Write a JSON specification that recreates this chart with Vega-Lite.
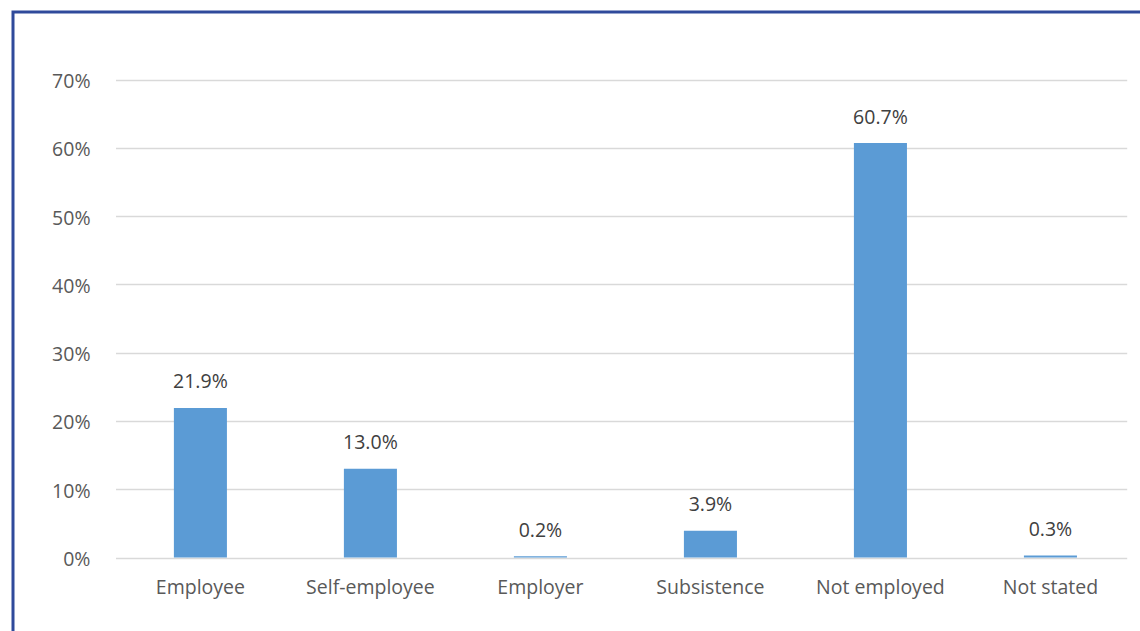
{
  "$schema": "https://vega.github.io/schema/vega-lite/v6.json",
  "width": 1137,
  "height": 634,
  "autosize": {"type": "none"},
  "padding": {"left": 13, "top": 12, "right": -10, "bottom": -15},
  "background": "white",
  "config": {
    "view": {"stroke": "#2F4A9B", "strokeWidth": 3},
    "font": "Open Sans"
  },
  "data": {
    "values": [
      {"category": "Employee", "share": 0.219},
      {"category": "Self-employee", "share": 0.130},
      {"category": "Employer", "share": 0.002},
      {"category": "Subsistence", "share": 0.039},
      {"category": "Not employed", "share": 0.607},
      {"category": "Not stated", "share": 0.003}
    ]
  },
  "encoding": {
    "x": {
      "field": "category",
      "type": "nominal",
      "sort": null,
      "scale": {"range": [102.5, 1113.7], "paddingInner": 0.688, "paddingOuter": 0.318, "align": 0.54},
      "axis": {
        "title": null,
        "orient": "bottom",
        "offset": -88.5,
        "domain": false,
        "ticks": false,
        "grid": false,
        "labelAngle": 0,
        "labelPadding": 21,
        "labelFontSize": 19.5,
        "labelColor": "#595959",
        "labelFont": "Open Sans"
      }
    },
    "y": {
      "field": "share",
      "type": "quantitative",
      "scale": {"domain": [0, 0.7], "range": [545.5, 67.5], "nice": false},
      "axis": {
        "title": null,
        "offset": -102.5,
        "domain": false,
        "ticks": false,
        "grid": true,
        "gridColor": "#D9D9D9",
        "gridWidth": 1.5,
        "values": [0, 0.1, 0.2, 0.3, 0.4, 0.5, 0.6, 0.7],
        "format": ".0%",
        "labelPadding": 25.5,
        "labelOffset": 2,
        "labelFontSize": 19.5,
        "labelColor": "#595959",
        "labelFont": "Open Sans"
      }
    }
  },
  "layer": [
    {"mark": {"type": "bar", "color": "#5B9BD5"}},
    {
      "mark": {"type": "text", "baseline": "alphabetic", "dy": -19.5, "fontSize": 19.5, "color": "#404040", "font": "Open Sans"},
      "encoding": {"text": {"field": "share", "type": "quantitative", "format": ".1%"}}
    }
  ]
}
